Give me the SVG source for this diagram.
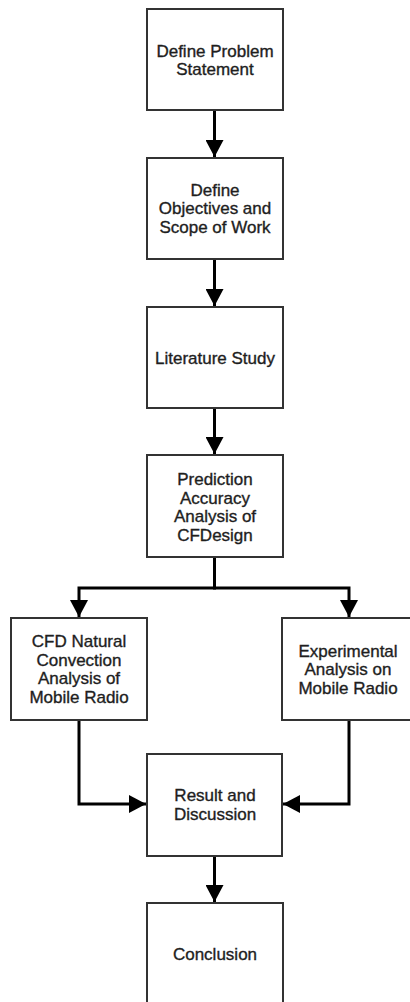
<svg xmlns="http://www.w3.org/2000/svg" width="410" height="1002" viewBox="0 0 410 1002">
<style>
.box{fill:#ffffff;stroke:#333333;stroke-width:2}
.lbl{font-family:"Liberation Sans",Arial,sans-serif;font-size:17px;fill:#1e1e1e;stroke:#1e1e1e;stroke-width:0.35;text-anchor:middle}
.conn{fill:none;stroke:#000000;stroke-width:3;marker-end:url(#arr)}
</style>
<defs>
<marker id="arr" markerUnits="userSpaceOnUse" markerWidth="18" markerHeight="18" refX="17" refY="9" orient="auto">
<path d="M0,0 L17,9 L0,18 z" fill="#000000"/>
</marker>
</defs>
<rect width="410" height="1002" fill="#ffffff"/>
<g id="connectors">
<path class="conn" d="M214.5,110 V157"/>
<path class="conn" d="M214.5,259 V306"/>
<path class="conn" d="M214.5,408 V454"/>
<path class="conn" d="M214.5,557 V588 H79 V617"/>
<path class="conn" d="M214.5,557 V588 H349 V617"/>
<path class="conn" d="M79,720 V804 H146"/>
<path class="conn" d="M349,720 V804 H283"/>
<path class="conn" d="M214.5,856 V902"/>
</g>
<g id="n1"><rect class="box" x="147" y="9" width="136" height="101"/><text class="lbl" x="215" y="56.5">Define Problem</text><text class="lbl" x="215" y="75.2">Statement</text></g>
<g id="n2"><rect class="box" x="147" y="158" width="136" height="101"/><text class="lbl" x="215" y="195.5">Define</text><text class="lbl" x="215" y="214.2">Objectives and</text><text class="lbl" x="215" y="232.9">Scope of Work</text></g>
<g id="n3"><rect class="box" x="147" y="307" width="136" height="101"/><text class="lbl" x="215" y="364">Literature Study</text></g>
<g id="n4"><rect class="box" x="147" y="455" width="136" height="102"/><text class="lbl" x="215" y="485">Prediction</text><text class="lbl" x="215" y="503.7">Accuracy</text><text class="lbl" x="215" y="522.4">Analysis of</text><text class="lbl" x="215" y="541.1">CFDesign</text></g>
<g id="n5"><rect class="box" x="11" y="618" width="136" height="102"/><text class="lbl" x="79" y="647">CFD Natural</text><text class="lbl" x="79" y="665.7">Convection</text><text class="lbl" x="79" y="684.4">Analysis of</text><text class="lbl" x="79" y="703.1">Mobile Radio</text></g>
<g id="n6"><rect class="box" x="282" y="618" width="136" height="102"/><text class="lbl" x="348" y="656.5">Experimental</text><text class="lbl" x="348" y="675.2">Analysis on</text><text class="lbl" x="348" y="693.9">Mobile Radio</text></g>
<g id="n7"><rect class="box" x="147" y="754" width="135" height="102"/><text class="lbl" x="215" y="801.3">Result and</text><text class="lbl" x="215" y="820">Discussion</text></g>
<g id="n8"><rect class="box" x="147" y="903" width="136" height="102"/><text class="lbl" x="215" y="960">Conclusion</text></g>
</svg>
